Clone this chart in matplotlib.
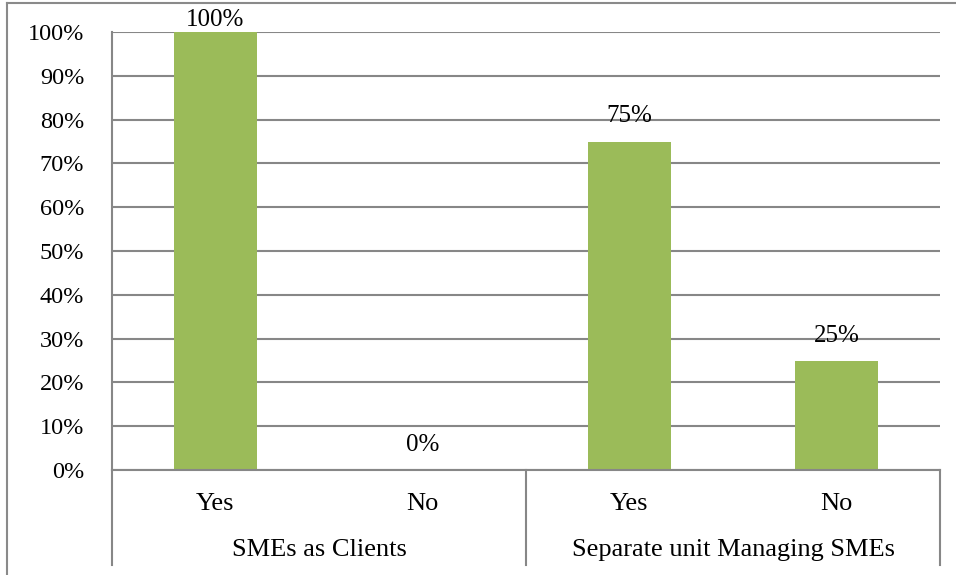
import numpy as np
import matplotlib.pyplot as plt
from matplotlib.lines import Line2D

# values
groups = ['SMEs as Clients', 'Separate unit Managing SMEs']
answers = ['Yes', 'No', 'Yes', 'No']
shares = [1.00, 0.00, 0.75, 0.25]
y_ticks = [0.0, 0.1, 0.2, 0.3, 0.4, 0.5, 0.6, 0.7, 0.8, 0.9, 1.0]

plt.rcParams['font.family'] = ['Liberation Serif', 'DejaVu Serif']
green = '#9BBB59'
grid_col = '#878787'

fig = plt.figure(figsize=(9.56, 5.75), dpi=100)
ax = fig.add_axes([112 / 956, 105 / 575, 828 / 956, 438 / 575])

x = np.arange(len(answers))
ax.bar(x, shares, width=0.4, color=green, zorder=3)

ax.set_xlim(-0.5, len(answers) - 0.5)
ax.set_ylim(0, 1)
ax.set_yticks(y_ticks)
ax.set_yticklabels([f'{int(round(v * 100))}%' for v in y_ticks], fontsize=17.5)
ax.tick_params(axis='y', length=0, pad=20)
ax.set_xticks([])
ax.grid(axis='y', color=grid_col, linewidth=1.5, zorder=0)
for s in ['top', 'right', 'bottom']:
    ax.spines[s].set_visible(False)
ax.spines['left'].set_color(grid_col)
ax.spines['left'].set_linewidth(1.5)

# data labels
for xi, v in zip(x, shares):
    off = 8.5 if v >= 1 else 18
    ax.annotate(f'{int(round(v * 100))}%', (xi, v), xytext=(0, off),
                textcoords='offset points', ha='center', va='center',
                fontsize=18, zorder=4)

# two-level category axis
tr = ax.get_xaxis_transform()
low = -0.217
ax.plot([-0.5, 3.5], [0, 0], color=grid_col, lw=1.5, transform=tr, clip_on=False, zorder=4)
for xv in [-0.5, 1.5, 3.5]:
    ax.plot([xv, xv], [0, low], color=grid_col, lw=1.5, transform=tr, clip_on=False)
for xi, lab in zip(x, answers):
    ax.text(xi, -0.078, lab, transform=tr, ha='center', va='center', fontsize=19)
for gi, g in enumerate(groups):
    ax.text(gi * 2 + 0.5, -0.183, g, transform=tr, ha='center', va='center', fontsize=19)

# chart area border (cropped)
fig.add_artist(Line2D([7 / 956, 1], [1 - 2.5 / 575, 1 - 2.5 / 575], color='#8a8a8a', lw=1.5))
fig.add_artist(Line2D([7 / 956, 7 / 956], [0, 1 - 2.5 / 575], color='#8a8a8a', lw=1.5))

plt.savefig('out.png', dpi=100)
